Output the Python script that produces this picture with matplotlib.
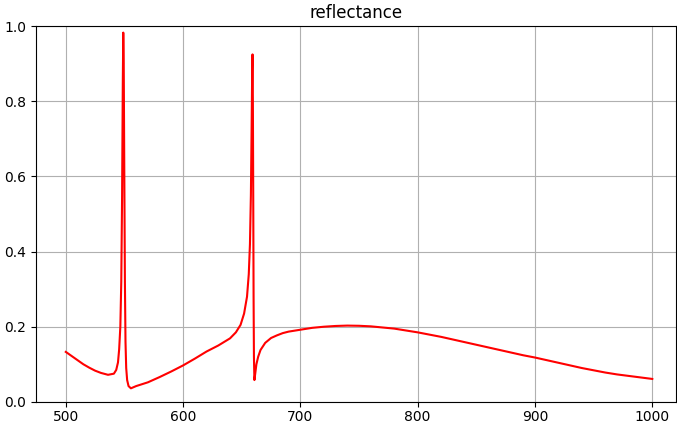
import matplotlib

matplotlib.use("Agg")
import matplotlib.pyplot as plt

# wavelength (nm) and reflectance
wavelength = [
    500, 505, 510, 515, 520, 525, 530, 536, 541, 543, 544.5, 545.5, 546.5,
    547.3, 548.0, 548.6, 549.0, 549.4, 549.9, 550.4, 550.9, 551.5, 552.3,
    553.5, 555.5, 560, 570, 580, 590, 600, 610, 620, 630, 640, 645, 649,
    652, 654.5, 656, 657, 657.8, 658.4, 658.9, 659.2, 659.5, 659.8, 660.1,
    660.4, 660.8, 661.5, 662.5, 664, 666, 670, 675, 680, 685, 690, 700,
    710, 720, 730, 740, 750, 760, 770, 780, 790, 800, 810, 820, 830, 840,
    850, 860, 870, 880, 890, 900, 910, 920, 930, 940, 950, 960, 970, 980,
    990, 1000,
]
reflectance = [
    0.133, 0.122, 0.111, 0.100, 0.091, 0.083, 0.077, 0.072, 0.075, 0.085,
    0.105, 0.14, 0.20, 0.32, 0.55, 0.85, 0.983, 0.90, 0.60, 0.32, 0.16,
    0.09, 0.058, 0.042, 0.036, 0.042, 0.052, 0.066, 0.081, 0.097, 0.115,
    0.134, 0.150, 0.169, 0.185, 0.205, 0.235, 0.28, 0.34, 0.42, 0.55, 0.72,
    0.88, 0.925, 0.80, 0.55, 0.28, 0.12, 0.058, 0.075, 0.10, 0.12, 0.138,
    0.157, 0.170, 0.177, 0.183, 0.187, 0.192, 0.197, 0.200, 0.202, 0.203,
    0.2025, 0.201, 0.198, 0.195, 0.190, 0.185, 0.179, 0.173, 0.166, 0.159,
    0.152, 0.145, 0.138, 0.131, 0.124, 0.118, 0.111, 0.104, 0.097, 0.090,
    0.084, 0.078, 0.073, 0.069, 0.065, 0.061,
]

fig = plt.figure(figsize=(6.77, 4.23), dpi=100)
ax = fig.add_axes([0.053, 0.05, 0.946, 0.888])

ax.plot(wavelength, reflectance, color="red", lw=1.5)
ax.set_title("reflectance", fontsize=12)
ax.set_xlim(474.5, 1020.5)
ax.set_ylim(0, 1)
ax.set_xticks([500, 600, 700, 800, 900, 1000])
ax.set_yticks([0.0, 0.2, 0.4, 0.6, 0.8, 1.0])
ax.tick_params(axis="x", pad=2.5)
ax.grid(True)

fig.savefig("out.png", dpi=100)
